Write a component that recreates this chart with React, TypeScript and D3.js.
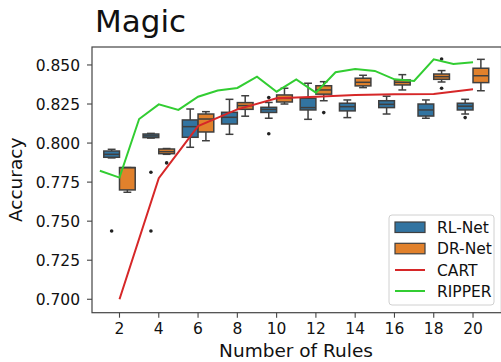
import React from "react";
import * as d3 from "d3";

// Number of rules at which each model was evaluated (box positions)
const ruleCounts = [2, 4, 6, 8, 10, 12, 14, 16, 18, 20];

// Box statistics per rule count: [whisker low, Q1, median, Q3, whisker high]
const rlNetBoxes: number[][] = [
  [0.7905, 0.7909, 0.7928, 0.7949, 0.796],
  [0.8032, 0.8035, 0.8046, 0.8058, 0.8062],
  [0.7973, 0.8037, 0.8105, 0.8148, 0.8218],
  [0.8056, 0.8122, 0.8165, 0.8197, 0.828],
  [0.8159, 0.8196, 0.8215, 0.8229, 0.826],
  [0.8152, 0.8212, 0.8227, 0.8287, 0.8383],
  [0.8163, 0.8206, 0.8233, 0.8255, 0.8276],
  [0.8186, 0.8227, 0.8248, 0.8271, 0.83],
  [0.8159, 0.8173, 0.8212, 0.825, 0.8276],
  [0.8186, 0.8212, 0.8236, 0.8255, 0.828],
];
const rlNetOutliers: number[][] = [
  [0.7437], [0.7813, 0.7437], [], [], [0.8291, 0.806], [], [], [], [], [0.8163],
];

const drNetBoxes: number[][] = [
  [0.7685, 0.77, 0.7843, 0.7843, 0.7843],
  [0.7928, 0.7932, 0.7945, 0.7962, 0.7965],
  [0.8015, 0.8071, 0.8154, 0.8186, 0.8201],
  [0.8172, 0.8216, 0.824, 0.8259, 0.8303],
  [0.825, 0.8263, 0.8286, 0.8308, 0.8351],
  [0.8271, 0.8313, 0.834, 0.8367, 0.8393],
  [0.8355, 0.8366, 0.8389, 0.8415, 0.8434],
  [0.834, 0.8372, 0.8389, 0.8404, 0.8438],
  [0.8391, 0.8408, 0.8425, 0.8442, 0.8464],
  [0.8335, 0.8387, 0.8431, 0.8479, 0.8536],
];
const drNetOutliers: number[][] = [
  [], [0.7873], [], [], [], [0.8195], [], [], [0.8538, 0.8351], [],
];

// CART accuracy (even rule counts)
const cartRules = [2, 4, 6, 8, 10, 12, 14, 16, 18, 20];
const cartAcc = [0.7, 0.7775, 0.8109, 0.8216, 0.8287, 0.8297, 0.8308, 0.8312, 0.8314, 0.8344];

// RIPPER accuracy (every rule count 1..20)
const ripperRules = [1, 2, 3, 4, 5, 6, 7, 8, 9, 10, 11, 12, 13, 14, 15, 16, 17, 18, 19, 20];
const ripperAcc = [
  0.7823, 0.7779, 0.8154, 0.8248, 0.8212, 0.8297, 0.8336, 0.8353, 0.8425, 0.8329,
  0.8408, 0.8323, 0.8453, 0.8474, 0.8462, 0.8408, 0.8398, 0.8536, 0.8506, 0.8517,
];

const yTicks = [0.7, 0.725, 0.75, 0.775, 0.8, 0.825, 0.85];
const xTicks = [2, 4, 6, 8, 10, 12, 14, 16, 18, 20];

const W = 501;
const H = 362;
const left = 92;
const right = 501.5;
const top = 47;
const bottom = 312.7;

const BLUE = "#3274a1";
const ORANGE = "#e1812c";
const RED = "#d62728";
const GREEN = "#32cd32";
const EDGE = "#3f3f3f";
const FONT = "DejaVu Sans, sans-serif";

export default function App() {
  const x = d3.scaleLinear().domain([0.6, 21.45]).range([left, right]);
  const y = d3.scaleLinear().domain([0.6914, 0.8615]).range([bottom, top]);

  const catW = x(2) - x(0); // width of one category slot
  const boxW = (catW * 0.8) / 2;

  const line = d3
    .line<[number, number]>()
    .x((d) => x(d[0]))
    .y((d) => y(d[1]));

  const cartPath = line(cartRules.map((r, i) => [r, cartAcc[i]]));
  const ripperPath = line(ripperRules.map((r, i) => [r, ripperAcc[i]]));

  const renderBox = (
    stats: number[],
    outs: number[],
    cx: number,
    fill: string,
    key: string
  ) => {
    const [lo, q1, med, q3, hi] = stats;
    const x0 = cx - boxW / 2;
    const capW = boxW * 0.5;
    return (
      <g key={key}>
        <line x1={cx} x2={cx} y1={y(q3)} y2={y(hi)} stroke={EDGE} strokeWidth={1.5} />
        <line x1={cx} x2={cx} y1={y(q1)} y2={y(lo)} stroke={EDGE} strokeWidth={1.5} />
        <line x1={cx - capW / 2} x2={cx + capW / 2} y1={y(hi)} y2={y(hi)} stroke={EDGE} strokeWidth={1.5} />
        <line x1={cx - capW / 2} x2={cx + capW / 2} y1={y(lo)} y2={y(lo)} stroke={EDGE} strokeWidth={1.5} />
        <rect
          x={x0}
          y={y(q3)}
          width={boxW}
          height={Math.max(0.5, y(q1) - y(q3))}
          fill={fill}
          stroke={EDGE}
          strokeWidth={1.5}
        />
        <line x1={x0} x2={x0 + boxW} y1={y(med)} y2={y(med)} stroke={EDGE} strokeWidth={1.5} />
        {outs.map((o, j) => (
          <circle key={j} cx={cx} cy={y(o)} r={1.8} fill="#222" />
        ))}
      </g>
    );
  };

  return (
    <svg
      width={W}
      height={H}
      style={{ position: "absolute", left: 0, top: 0, background: "#fff" }}
      fontFamily={FONT}
    >
      <rect x={0} y={0} width={W} height={H} fill="#fff" />

      {/* boxes */}
      {ruleCounts.map((r, i) =>
        renderBox(rlNetBoxes[i], rlNetOutliers[i], x(r) - boxW / 2, BLUE, `rl${i}`)
      )}
      {ruleCounts.map((r, i) =>
        renderBox(drNetBoxes[i], drNetOutliers[i], x(r) + boxW / 2, ORANGE, `dr${i}`)
      )}

      {/* baseline methods */}
      <path d={cartPath ?? ""} fill="none" stroke={RED} strokeWidth={2} />
      <path d={ripperPath ?? ""} fill="none" stroke={GREEN} strokeWidth={2} />

      {/* frame */}
      <rect
        x={left}
        y={top}
        width={right - left}
        height={bottom - top}
        fill="none"
        stroke="#444"
        strokeWidth={1.2}
      />

      {/* y axis */}
      {yTicks.map((t) => (
        <g key={t}>
          <line x1={left - 5} x2={left} y1={y(t)} y2={y(t)} stroke="#444" strokeWidth={1.1} />
          <text
            x={left - 12}
            y={y(t)}
            dy="0.36em"
            textAnchor="end"
            fontSize={15.5}
            fill="#111"
          >
            {d3.format(".3f")(t)}
          </text>
        </g>
      ))}

      {/* x axis */}
      {xTicks.map((t) => (
        <g key={t}>
          <line x1={x(t)} x2={x(t)} y1={bottom} y2={bottom + 5} stroke="#444" strokeWidth={1.1} />
          <text x={x(t)} y={334} textAnchor="middle" fontSize={15.5} fill="#111">
            {t}
          </text>
        </g>
      ))}

      <text x={296} y={357} textAnchor="middle" fontSize={18.5} fill="#111">
        Number of Rules
      </text>
      <text
        transform={`translate(22, ${(top + bottom) / 2}) rotate(-90)`}
        textAnchor="middle"
        fontSize={18.5}
        fill="#111"
      >
        Accuracy
      </text>

      <text x={95} y={32} fontSize={31} fill="#111">
        Magic
      </text>

      {/* legend */}
      <g>
        <rect
          x={389}
          y={215}
          width={105}
          height={90}
          rx={3}
          fill="#fff"
          fillOpacity={0.85}
          stroke="#d0d0d0"
          strokeWidth={1}
        />
        <rect x={395} y={222} width={30} height={10.5} fill={BLUE} stroke={EDGE} strokeWidth={1.2} />
        <text x={437} y={227} dy="0.36em" fontSize={15.5} fill="#111">
          RL-Net
        </text>
        <rect x={395} y={243.3} width={30} height={10.5} fill={ORANGE} stroke={EDGE} strokeWidth={1.2} />
        <text x={437} y={248.5} dy="0.36em" fontSize={15.5} fill="#111">
          DR-Net
        </text>
        <line x1={395} x2={425} y1={270} y2={270} stroke={RED} strokeWidth={2} />
        <text x={437} y={270} dy="0.36em" fontSize={15.5} fill="#111">
          CART
        </text>
        <line x1={395} x2={425} y1={291} y2={291} stroke={GREEN} strokeWidth={2} />
        <text x={437} y={291} dy="0.36em" fontSize={15.5} fill="#111">
          RIPPER
        </text>
      </g>
    </svg>
  );
}
